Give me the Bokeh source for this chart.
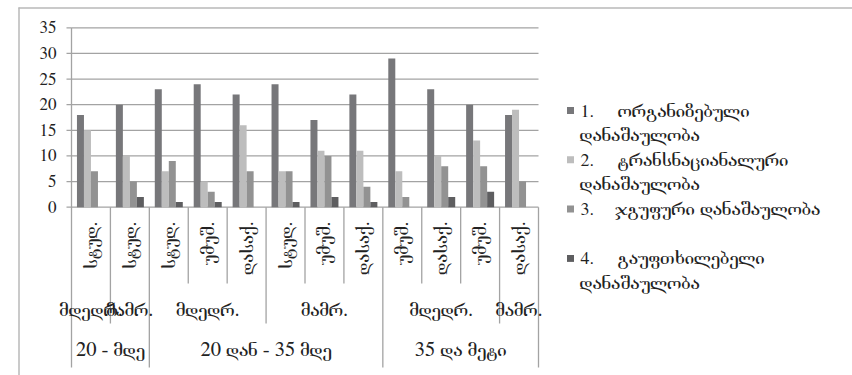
import math
from bokeh.plotting import figure
from bokeh.models import ColumnDataSource, Range1d
from bokeh.transform import dodge
from bokeh.core.properties import value
from bokeh.embed import file_html
from bokeh.resources import INLINE

# ---------------- data ----------------
OCC = ["სტუდ.", "სტუდ.", "სტუდ.", "უმუშ.", "დასაქ.", "სტუდ.",
       "უმუშ.", "დასაქ.", "უმუშ.", "დასაქ.", "უმუშ.", "დასაქ."]
SEX = ["მდედრ.", "მამრ.", "მდედრ.", "მდედრ.", "მდედრ.", "მამრ.",
       "მამრ.", "მამრ.", "მდედრ.", "მდედრ.", "მდედრ.", "მამრ."]
AGE = ["20 - მდე", "20 - მდე",
       "20 დან - 35 მდე", "20 დან - 35 მდე", "20 დან - 35 მდე",
       "20 დან - 35 მდე", "20 დან - 35 მდე", "20 დან - 35 მდე",
       "35 და მეტი", "35 და მეტი", "35 და მეტი", "35 და მეტი"]

S1 = [18, 20, 23, 24, 22, 24, 17, 22, 29, 23, 20, 18]
S2 = [15, 10, 7, 5, 16, 7, 11, 11, 7, 10, 13, 19]
S3 = [7, 5, 9, 3, 7, 7, 10, 4, 2, 8, 8, 5]
S4 = [0, 2, 1, 1, 0, 1, 2, 1, 0, 2, 3, 0]

SERIES_NUM = ["1.", "2.", "3.", "4."]
SERIES_NAME = ["ორგანიზებული დანაშაულობა",
               "ტრანსნაციანალური დანაშაულობა",
               "ჯგუფური დანაშაულობა",
               "გაუფთხილებელი დანაშაულობა"]
COLORS = ["#77777a", "#bdbdbd", "#929292", "#5e5e60"]

Y_TICKS = [0, 5, 10, 15, 20, 25, 30, 35]

# ---------------- layout (pixels) ----------------
W, H = 852, 375
N = len(OCC)
PX_LEFT, PX_RIGHT = 71.0, 538.0      # x of category 0 start / end
PX_Y0, PX_YTOP = 206.7, 27.3          # y of value 0 / value 35
XU = (PX_RIGHT - PX_LEFT) / N
YU = (PX_Y0 - PX_YTOP) / Y_TICKS[-1]


def X(px):
    return (px - PX_LEFT) / XU


def Y(py):
    return (PX_Y0 - py) / YU


FONT = value("FreeSerif")
TXT = "#222222"
LINE = "#a3a3a3"

p = figure(width=W, height=H, output_backend="svg", toolbar_location=None,
           x_range=Range1d(X(0), X(W)), y_range=Range1d(Y(H), Y(0)),
           x_axis_location=None, y_axis_location=None, min_border=0,
           outline_line_color=None, background_fill_color="white")
p.xgrid.visible = False
p.ygrid.visible = False

# outer chart border (top and left)
p.segment(x0=[X(18), X(18.5)], y0=[Y(7.5), Y(7)], x1=[X(W), X(18.5)], y1=[Y(7.5), Y(H)],
          line_color="#b8b8b8", line_width=1.5)

# gridlines and y tick marks
gt = Y_TICKS[1:]
p.segment(x0=[0] * len(gt), y0=gt, x1=[N] * len(gt), y1=gt, line_color=LINE, line_width=1.3)
p.segment(x0=[X(66)] * len(Y_TICKS), y0=Y_TICKS, x1=[0] * len(Y_TICKS), y1=Y_TICKS,
          line_color=LINE, line_width=1.3)

# axis lines
p.segment(x0=[0, 0], y0=[0, Y(367)], x1=[N, 0], y1=[0, Y_TICKS[-1]], line_color=LINE, line_width=1.3)

# y tick labels
p.text(x=[X(56)] * len(Y_TICKS), y=Y_TICKS, text=[str(t) for t in Y_TICKS],
       text_align="right", text_baseline="middle", text_font=FONT,
       text_font_size="17px", text_color=TXT)

# bars
src = ColumnDataSource(dict(x=[i + 0.5 for i in range(N)], s1=S1, s2=S2, s3=S3, s4=S4))
BW = 7.0 / XU
for k, col in enumerate(["s1", "s2", "s3", "s4"]):
    p.vbar(x=dodge("x", (k - 1.5) * BW), top=col, width=BW, source=src,
           fill_color=COLORS[k], line_color=None)

# category separators
sx, sy0, sy1 = [], [], []
for k in range(1, N + 1):
    if k == N or AGE[k - 1] != AGE[k]:
        bottom = Y(367)
    elif SEX[k - 1] != SEX[k]:
        bottom = Y(323)
    else:
        bottom = Y(283)
    sx.append(k)
    sy0.append(0)
    sy1.append(bottom)
p.segment(x0=sx, y0=sy0, x1=sx, y1=sy1, line_color=LINE, line_width=1.3)

# tier 1 labels (rotated)
p.text(x=[i + 0.5 for i in range(N)], y=[Y(221)] * N, text=OCC, angle=math.pi / 2,
       text_align="right", text_baseline="middle", text_font=FONT,
       text_font_size="19.5px", text_color=TXT)


def runs(keys):
    out = []
    start = 0
    for i in range(1, len(keys) + 1):
        if i == len(keys) or keys[i] != keys[start]:
            out.append((start, i))
            start = i
    return out


# tier 2
r2 = runs(list(zip(AGE, SEX)))
p.text(x=[(a + b) / 2 for a, b in r2], y=[Y(309)] * len(r2), text=[SEX[a] for a, b in r2],
       text_align="center", text_baseline="middle", text_font=FONT,
       text_font_size="20.5px", text_color=TXT)

# tier 3
r3 = runs(AGE)
p.text(x=[(a + b) / 2 for a, b in r3], y=[Y(349)] * len(r3), text=[AGE[a] for a, b in r3],
       text_align="center", text_baseline="middle", text_font=FONT,
       text_font_size="20.5px", text_color=TXT)

# legend
ROW0, ROWSTEP, LINESTEP = 110.0, 49.3, 24.5
for k in range(4):
    ry = ROW0 + k * ROWSTEP
    p.scatter(x=[X(570)], y=[Y(ry)], marker="square", size=7, fill_color=COLORS[k], line_color=None)
    p.text(x=[X(580)], y=[Y(ry)], text=[SERIES_NUM[k]], text_align="left", text_baseline="middle",
           text_font=FONT, text_font_size="18px", text_color=TXT)
    words = SERIES_NAME[k].split(" ", 1)
    if len(words[0]) > 10:
        lines = [(X(617), Y(ry), words[0]), (X(579), Y(ry + LINESTEP), words[1])]
    else:
        lines = [(X(615), Y(ry), words[0] + "  " + words[1])]
    p.text(x=[l[0] for l in lines], y=[l[1] for l in lines], text=[l[2] for l in lines],
           text_align="left", text_baseline="middle", text_font=FONT,
           text_font_size="20.5px", text_color=TXT)

open("out.html", "w").write(file_html(p, INLINE))
